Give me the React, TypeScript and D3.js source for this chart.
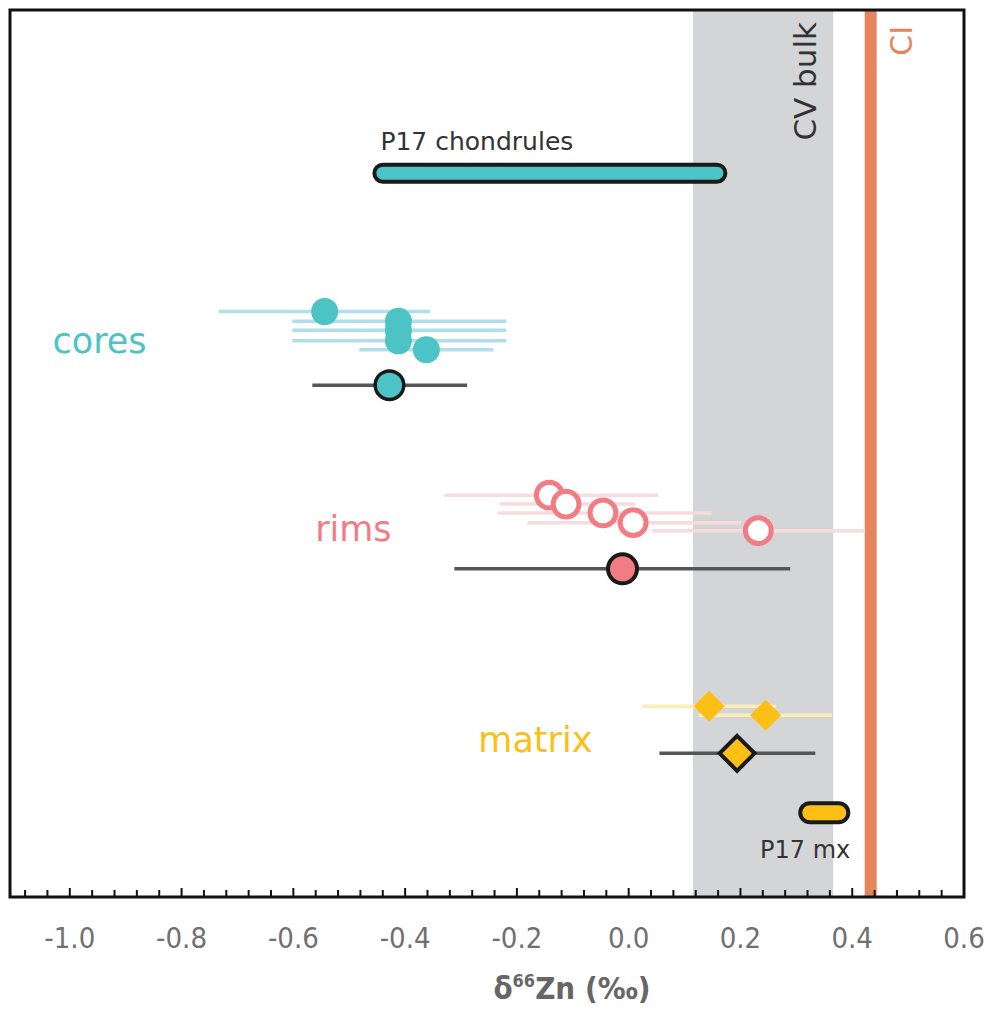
import React from 'react';
import * as d3 from 'd3';

const W = 990;
const H = 1013;

// x axis ticks
const xMajorTicks = [-1.0, -0.8, -0.6, -0.4, -0.2, 0.0, 0.2, 0.4, 0.6];
const xTickLabels = ['-1.0', '-0.8', '-0.6', '-0.4', '-0.2', '0.0', '0.2', '0.4', '0.6'];

// reference ranges
const cvBulkRange = [0.115, 0.366];
const ciValue = 0.433;

// bulk bars (P17)
const chondruleRange = [-0.455, 0.173];
const chondruleRow = 18.4;
const mxRange = [0.307, 0.393];
const mxRow = 90.5;

// cores
const coreValues = [-0.544, -0.412, -0.412, -0.412, -0.362];
const coreLow = [-0.734, -0.602, -0.602, -0.602, -0.482];
const coreHigh = [-0.355, -0.219, -0.219, -0.219, -0.242];
const coreRows = [34.0, 35.1, 36.1, 37.3, 38.3];
const coreMean = [-0.428, -0.566, -0.289, 42.3]; // value, low, high, row

// rims
const rimValues = [-0.142, -0.112, -0.046, 0.008, 0.232];
const rimLow = [-0.33, -0.231, -0.235, -0.181, 0.042];
const rimHigh = [0.053, 0.012, 0.148, 0.201, 0.423];
const rimRows = [54.7, 55.7, 56.7, 57.8, 58.7];
const rimMean = [-0.011, -0.312, 0.289, 63.0];

// matrix
const matrixValues = [0.144, 0.245];
const matrixLow = [0.024, 0.125];
const matrixHigh = [0.264, 0.364];
const matrixRows = [78.5, 79.5];
const matrixMean = [0.194, 0.055, 0.334, 83.8];

const C = {
  teal: '#4CC3C4',
  tealLight: '#B0DEE9',
  pink: '#F27C84',
  pinkLight: '#F7DCDD',
  yellow: '#FBBF16',
  yellowLight: '#FCEDB4',
  band: '#D4D5D7',
  ci: '#E5855B',
  dark: '#1a1a1a',
  meanBar: '#555555',
  text: '#333333',
  axisText: '#707070',
};

const FONT = '"DejaVu Sans", sans-serif';
const COND = '"DejaVu Sans Condensed", "DejaVu Sans", sans-serif';

export default function App() {
  const left = 10, right = 964, top = 10, bottom = 897;
  const x = d3.scaleLinear().domain([-1.107, 0.6]).range([left, right]);
  const y = d3.scaleLinear().domain([0, 100]).range([top, bottom]);

  const minorTicks = d3.range(-1.08, 0.6 + 1e-9, 0.04).filter(
    (t) => !xMajorTicks.some((m) => Math.abs(m - t) < 1e-6)
  );

  const diamond = (cx: number, cy: number, h: number) =>
    `M${cx},${cy - h}L${cx + h},${cy}L${cx},${cy + h}L${cx - h},${cy}Z`;

  const bulkBar = (range: number[], row: number, h: number, fill: string, key: string) => {
    const x0 = x(range[0]);
    const x1 = x(range[1]);
    return (
      <rect key={key} x={x0} y={y(row) - h / 2} width={x1 - x0} height={h} rx={h / 2} ry={h / 2}
        fill={fill} stroke={C.dark} strokeWidth={4} />
    );
  };

  return (
    <svg width={W} height={H} style={{ position: 'absolute', left: 0, top: 0 }}>
      <rect x={0} y={0} width={W} height={H} fill="#fff" />
      {/* CV bulk band */}
      <rect x={x(cvBulkRange[0])} y={top} width={x(cvBulkRange[1]) - x(cvBulkRange[0])} height={bottom - top} fill={C.band} />
      {/* CI line */}
      <rect x={x(ciValue) - 6} y={top} width={12} height={bottom - top} fill={C.ci} />

      <text transform={`translate(${816},${22}) rotate(-90)`} textAnchor="end" fontFamily={FONT} fontSize={31} fill={C.text}>CV bulk</text>
      <text transform={`translate(${912},${26}) rotate(-90)`} textAnchor="end" fontFamily={FONT} fontSize={30} fill={C.ci}>CI</text>

      {/* P17 chondrules */}
      <text x={x(chondruleRange[0]) + 6} y={y(chondruleRow) - 23} fontFamily={FONT} fontSize={25} fill={C.text}>P17 chondrules</text>
      {bulkBar(chondruleRange, chondruleRow, 17, C.teal, 'chon')}

      {/* cores */}
      <text x={x(-1.031)} y={y(38.7)} fontFamily={FONT} fontSize={35} fill={C.teal}>cores</text>
      {coreValues.map((v, i) => (
        <line key={'cl' + i} x1={x(coreLow[i])} x2={x(coreHigh[i])} y1={y(coreRows[i])} y2={y(coreRows[i])} stroke={C.tealLight} strokeWidth={3.5} />
      ))}
      {coreValues.map((v, i) => (
        <circle key={'cp' + i} cx={x(v)} cy={y(coreRows[i])} r={13.5} fill={C.teal} />
      ))}
      <line x1={x(coreMean[1])} x2={x(coreMean[2])} y1={y(coreMean[3])} y2={y(coreMean[3])} stroke={C.meanBar} strokeWidth={3.5} />
      <circle cx={x(coreMean[0])} cy={y(coreMean[3])} r={14.3} fill={C.teal} stroke={C.dark} strokeWidth={3.5} />

      {/* rims */}
      <text x={x(-0.561)} y={y(59.9)} fontFamily={FONT} fontSize={35} fill={C.pink}>rims</text>
      {rimValues.map((v, i) => (
        <line key={'rl' + i} x1={x(rimLow[i])} x2={x(rimHigh[i])} y1={y(rimRows[i])} y2={y(rimRows[i])} stroke={C.pinkLight} strokeWidth={3.5} />
      ))}
      {rimValues.map((v, i) => (
        <circle key={'rp' + i} cx={x(v)} cy={y(rimRows[i])} r={12.9} fill="#fff" stroke={C.pink} strokeWidth={5} />
      ))}
      <line x1={x(rimMean[1])} x2={x(rimMean[2])} y1={y(rimMean[3])} y2={y(rimMean[3])} stroke={C.meanBar} strokeWidth={3.5} />
      <circle cx={x(rimMean[0])} cy={y(rimMean[3])} r={14.5} fill={C.pink} stroke={C.dark} strokeWidth={4} />

      {/* matrix */}
      <text x={x(-0.269)} y={y(83.65)} fontFamily={FONT} fontSize={35} fill={C.yellow}>matrix</text>
      {matrixValues.map((v, i) => (
        <line key={'ml' + i} x1={x(matrixLow[i])} x2={x(matrixHigh[i])} y1={y(matrixRows[i])} y2={y(matrixRows[i])} stroke={C.yellowLight} strokeWidth={3.5} />
      ))}
      {matrixValues.map((v, i) => (
        <path key={'mp' + i} d={diamond(x(v), y(matrixRows[i]), 15.5)} fill={C.yellow} />
      ))}
      <line x1={x(matrixMean[1])} x2={x(matrixMean[2])} y1={y(matrixMean[3])} y2={y(matrixMean[3])} stroke={C.meanBar} strokeWidth={3.5} />
      <path d={diamond(x(matrixMean[0]), y(matrixMean[3]), 17.5)} fill={C.yellow} stroke={C.dark} strokeWidth={4} strokeLinejoin="miter" />

      {/* P17 mx */}
      {bulkBar(mxRange, mxRow, 19, C.yellow, 'mx')}
      <text x={x(mxRange[1]) + 2} y={y(mxRow) + 45} textAnchor="end" fontFamily={FONT} fontSize={24} fill={C.text}>P17 mx</text>

      {/* frame */}
      <rect x={left} y={top} width={right - left} height={bottom - top} fill="none" stroke="#111" strokeWidth={3} />

      {/* ticks */}
      {minorTicks.map((t, i) => (
        <line key={'mt' + i} x1={x(t)} x2={x(t)} y1={bottom} y2={bottom - 7} stroke="#111" strokeWidth={2} />
      ))}
      {xMajorTicks.map((t, i) => (
        <line key={'Mt' + i} x1={x(t)} x2={x(t)} y1={bottom} y2={bottom - 9} stroke="#111" strokeWidth={2} />
      ))}
      {xMajorTicks.map((t, i) => (
        <text key={'tl' + i} x={x(t)} y={948} textAnchor="middle" fontFamily={COND} fontSize={29} fill={C.axisText}>{xTickLabels[i]}</text>
      ))}

      <text x={572} y={999} textAnchor="middle" fontFamily={COND} fontWeight="bold" fontSize={31} fill="#666">
        δ<tspan fontSize={18} dy={-12}>66</tspan><tspan dy={12}>Zn (‰)</tspan>
      </text>
    </svg>
  );
}
